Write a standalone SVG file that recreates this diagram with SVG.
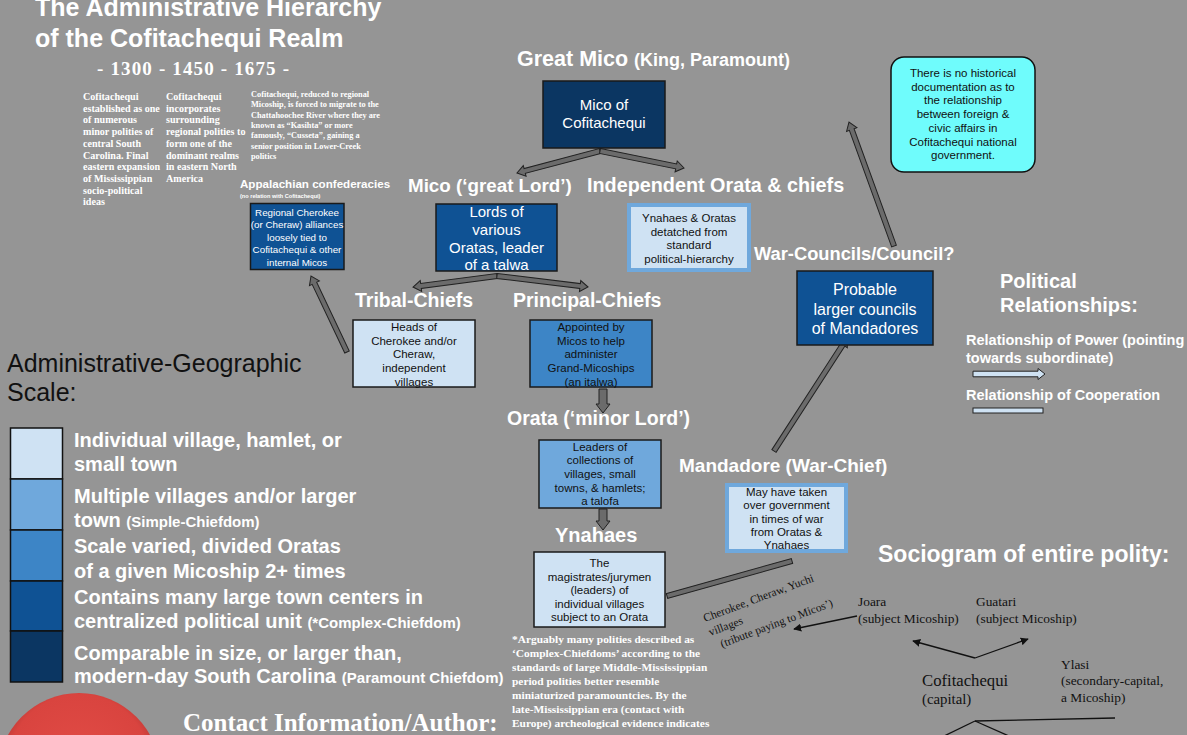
<svg xmlns="http://www.w3.org/2000/svg" width="1187" height="735" viewBox="0 0 1187 735">
<defs>
<style>
.sans{font-family:"Liberation Sans",Arial,sans-serif}
.serif{font-family:"Liberation Serif","Times New Roman",serif}
.h{font-family:"Liberation Sans",Arial,sans-serif;font-weight:bold;fill:#fff;font-size:19.5px}
.small{font-family:"Liberation Serif","Times New Roman",serif;font-weight:bold;fill:#fff;font-size:10.1px}
.tiny{font-family:"Liberation Serif","Times New Roman",serif;font-weight:bold;fill:#fff;font-size:8.3px}
.bt{font-family:"Liberation Sans",Arial,sans-serif;font-size:11.5px;fill:#111;text-anchor:middle}
.wt{font-family:"Liberation Sans",Arial,sans-serif;fill:#fff;text-anchor:middle}
.leg{font-family:"Liberation Sans",Arial,sans-serif;font-weight:bold;fill:#fff;font-size:20px}
.legs{font-size:15px}
.soc{font-family:"Liberation Serif","Times New Roman",serif;fill:#111;font-size:13.4px}
.blk{fill:#6b6b6b;stroke:#222;stroke-width:1}
.thin{stroke:#111;stroke-width:1.3;fill:none}
.c1{fill:#cfe2f3}.c2{fill:#6fa8dc}.c3{fill:#3d85c6}.c4{fill:#0f5294}.c5{fill:#0b3662}
.bx{stroke:#1a1a1a;stroke-width:1.5}
.bxl{stroke:#6fa8dc;stroke-width:4}
</style>
<marker id="ah" viewBox="0 0 10 10" refX="9" refY="5" markerWidth="8" markerHeight="8" markerUnits="userSpaceOnUse" orient="auto">
<path d="M0,0 L10,5 L0,10 Z" fill="#111"/>
</marker>
<radialGradient id="red" cx="0.5" cy="0.45" r="0.55">
<stop offset="0" stop-color="#e24c46"/>
<stop offset="0.8" stop-color="#d9443f"/>
<stop offset="1" stop-color="#a83430"/>
</radialGradient>
</defs>
<rect x="0" y="0" width="1187" height="735" fill="#959595"/>

<g id="title">
<text class="sans" x="35" y="16" font-size="25" font-weight="bold" fill="#fff">The Administrative Hierarchy</text>
<text class="sans" x="35" y="47" font-size="25" font-weight="bold" fill="#fff">of the Cofitachequi Realm</text>
<text class="serif" x="97" y="75" font-size="19" font-weight="bold" fill="#fff" textLength="192" lengthAdjust="spacing">- 1300 - 1450 - 1675 -</text>
</g>

<g id="timeline-notes">
<text class="small" x="83"><tspan x="83" y="100">Cofitachequi</tspan><tspan x="83" y="111.7">established as one</tspan><tspan x="83" y="123.4">of numerous</tspan><tspan x="83" y="135.1">minor polities of</tspan><tspan x="83" y="146.8">central South</tspan><tspan x="83" y="158.5">Carolina. Final</tspan><tspan x="83" y="170.2">eastern expansion</tspan><tspan x="83" y="181.9">of Mississippian</tspan><tspan x="83" y="193.6">socio-political</tspan><tspan x="83" y="205.3">ideas</tspan></text>
<text class="small" x="166"><tspan x="166" y="100">Cofitachequi</tspan><tspan x="166" y="111.7">incorporates</tspan><tspan x="166" y="123.4">surrounding</tspan><tspan x="166" y="135.1">regional polities to</tspan><tspan x="166" y="146.8">form one of the</tspan><tspan x="166" y="158.5">dominant realms</tspan><tspan x="166" y="170.2">in eastern North</tspan><tspan x="166" y="181.9">America</tspan></text>
<text class="tiny" x="251"><tspan x="251" y="97">Cofitachequi, reduced to regional</tspan><tspan x="251" y="107.3">Micoship, is forced to migrate to the</tspan><tspan x="251" y="117.6">Chattahoochee River where they are</tspan><tspan x="251" y="127.9">known as “Kasihta” or more</tspan><tspan x="251" y="138.2">famously, “Cusseta”, gaining a</tspan><tspan x="251" y="148.5">senior position in Lower-Creek</tspan><tspan x="251" y="158.8">politics</tspan></text>
</g>

<g id="connectors">
<g transform="translate(600,151) rotate(165.15)"><path class="blk" d="M0,-2.5 H77.9 V-5.5 L85.9,0 L77.9,5.5 V2.5 H0 Z"/></g>
<g transform="translate(600,151) rotate(11.44)"><path class="blk" d="M0,-2.5 H77.7 V-5.5 L85.7,0 L77.7,5.5 V2.5 H0 Z"/></g>
<g transform="translate(497,276) rotate(172.5)"><path class="blk" d="M0,-2.5 H76.7 V-5.5 L84.7,0 L76.7,5.5 V2.5 H0 Z"/></g>
<g transform="translate(497,276) rotate(6.9)"><path class="blk" d="M0,-2.5 H83.7 V-5.5 L91.7,0 L83.7,5.5 V2.5 H0 Z"/></g>
<g transform="translate(603,389) rotate(90)"><path class="blk" d="M0,-4 H15 V-7 L24,0 L15,7 V4 H0 Z"/></g>
<g transform="translate(603,509) rotate(90)"><path class="blk" d="M0,-4 H12 V-7 L21,0 L12,7 V4 H0 Z"/></g>
<g transform="translate(347,352) rotate(-115.35)"><path class="blk" d="M0,-2.5 H76.1 V-5.5 L84.1,0 L76.1,5.5 V2.5 H0 Z"/></g>
<g transform="translate(774,451) rotate(-57.1)"><path class="blk" d="M0,-2.5 H126.5 V-5.5 L134.5,0 L126.5,5.5 V2.5 H0 Z"/></g>
<g transform="translate(894,246) rotate(-109.95)"><path class="blk" d="M0,-2.5 H123.9 V-5.5 L131.9,0 L123.9,5.5 V2.5 H0 Z"/></g>
<g transform="translate(667,596) rotate(-15.64)"><rect class="blk" x="0" y="-2.5" width="129.8" height="5"/></g>
<line class="thin" x1="857" y1="616" x2="794" y2="629" marker-end="url(#ah)"/>
<line class="thin" x1="975" y1="658" x2="913" y2="641" marker-end="url(#ah)"/>
<line class="thin" x1="975" y1="658" x2="1028" y2="639" marker-end="url(#ah)"/>
<line class="thin" x1="975" y1="721" x2="1115" y2="718"/>
<line class="thin" x1="975" y1="721" x2="940" y2="738"/>
<line class="thin" x1="975" y1="721" x2="1018" y2="740"/>
</g>

<g id="great-mico">
<text class="h" x="517" y="66" style="font-size:21.5px">Great Mico <tspan style="font-size:18px">(King, Paramount)</tspan></text>
<rect class="c5 bx" x="543" y="81" width="122" height="67"/>
<text class="wt" font-size="15"><tspan x="604" y="110">Mico of</tspan><tspan x="604" y="128">Cofitachequi</tspan></text>
</g>

<g id="appalachian">
<text class="sans" x="240" y="188" font-size="11.6" font-weight="bold" fill="#fff">Appalachian confederacies</text>
<text class="sans" x="240" y="197.5" font-size="5.6" font-weight="bold" fill="#fff">(no relation with Cofitachequi)</text>
<rect class="c4 bx" x="250.5" y="203.5" width="93.5" height="66" stroke-width="1.2"/>
<text class="wt" font-size="9.8"><tspan x="297" y="216">Regional Cherokee</tspan><tspan x="297" y="228.4">(or Cheraw) alliances</tspan><tspan x="297" y="240.8">loosely tied to</tspan><tspan x="297" y="253.2">Cofitachequi &amp; other</tspan><tspan x="297" y="265.6">internal Micos</tspan></text>
</g>

<g id="mico">
<text class="h" x="408" y="192" style="font-size:18.8px">Mico (‘great Lord’)</text>
<rect class="c4 bx" x="436" y="204" width="121" height="67"/>
<text class="wt" font-size="15"><tspan x="496.5" y="217">Lords of</tspan><tspan x="496.5" y="235">various</tspan><tspan x="496.5" y="253">Oratas, leader</tspan><tspan x="496.5" y="270">of a talwa</tspan></text>
</g>

<g id="independent">
<text class="h" x="587" y="192" style="font-size:19.8px">Independent Orata &amp; chiefs</text>
<rect class="c1 bxl" x="629" y="205" width="120" height="65"/>
<text class="bt"><tspan x="689" y="222">Ynahaes &amp; Oratas</tspan><tspan x="689" y="235.5">detatched from</tspan><tspan x="689" y="249">standard</tspan><tspan x="689" y="262.5">political-hierarchy</tspan></text>
</g>

<g id="war-council">
<text class="h" x="754" y="260" style="font-size:18.3px">War-Councils/Council?</text>
<rect class="c4 bx" x="797" y="271" width="136" height="74" stroke-width="1.2"/>
<text class="wt" font-size="16"><tspan x="865" y="295">Probable</tspan><tspan x="865" y="315">larger councils</tspan><tspan x="865" y="334">of Mandadores</tspan></text>
</g>

<g id="note">
<rect x="891" y="57" width="144" height="115" rx="13" fill="#6ffcfc" stroke="#111" stroke-width="1.5"/>
<text class="bt"><tspan x="963" y="77">There is no historical</tspan><tspan x="963" y="90.7">documentation as to</tspan><tspan x="963" y="104.4">the relationship</tspan><tspan x="963" y="118.1">between foreign &amp;</tspan><tspan x="963" y="131.8">civic affairs in</tspan><tspan x="963" y="145.5">Cofitachequi national</tspan><tspan x="963" y="159.2">government.</tspan></text>
</g>

<g id="tribal-chiefs">
<text class="h" x="355" y="307">Tribal-Chiefs</text>
<rect class="c1 bx" x="353" y="320" width="122" height="67"/>
<text class="bt"><tspan x="414" y="331">Heads of</tspan><tspan x="414" y="344.7">Cherokee and/or</tspan><tspan x="414" y="358.4">Cheraw,</tspan><tspan x="414" y="372.1">independent</tspan><tspan x="414" y="385.8">villages</tspan></text>
</g>

<g id="principal-chiefs">
<text class="h" x="513" y="307">Principal-Chiefs</text>
<rect class="c3 bx" x="530" y="320" width="122" height="67"/>
<text class="bt"><tspan x="591" y="331">Appointed by</tspan><tspan x="591" y="344.7">Micos to help</tspan><tspan x="591" y="358.4">administer</tspan><tspan x="591" y="372.1">Grand-Micoships</tspan><tspan x="591" y="385.8">(an italwa)</tspan></text>
</g>

<g id="orata">
<text class="h" x="507" y="425">Orata (‘minor Lord’)</text>
<rect class="c2 bx" x="539" y="440" width="122" height="68"/>
<text class="bt"><tspan x="600" y="450.5">Leaders of</tspan><tspan x="600" y="464.2">collections of</tspan><tspan x="600" y="477.9">villages, small</tspan><tspan x="600" y="491.6">towns, &amp; hamlets;</tspan><tspan x="600" y="505.3">a talofa</tspan></text>
</g>

<g id="ynahaes">
<text class="h" x="555" y="542" style="font-size:20px">Ynahaes</text>
<rect class="c1 bx" x="534" y="552" width="131" height="75"/>
<text class="bt"><tspan x="599.5" y="567">The</tspan><tspan x="599.5" y="580.6">magistrates/jurymen</tspan><tspan x="599.5" y="594.2">(leaders) of</tspan><tspan x="599.5" y="607.8">individual villages</tspan><tspan x="599.5" y="621.4">subject to an Orata</tspan></text>
</g>

<g id="mandadore">
<text class="h" x="679" y="472" style="font-size:19px">Mandadore (War-Chief)</text>
<rect class="c1 bxl" x="727" y="485" width="119" height="66"/>
<text class="bt"><tspan x="786.5" y="496">May have taken</tspan><tspan x="786.5" y="509.3">over government</tspan><tspan x="786.5" y="522.6">in times of war</tspan><tspan x="786.5" y="535.9">from Oratas &amp;</tspan><tspan x="786.5" y="549.2">Ynahaes</tspan></text>
</g>

<g id="footnote">
<text class="serif" font-size="11.4" font-weight="bold" fill="#fff"><tspan x="512" y="643">*Arguably many polities described as</tspan><tspan x="512" y="657">‘Complex-Chiefdoms’ according to the</tspan><tspan x="512" y="671">standards of large Middle-Mississippian</tspan><tspan x="512" y="685">period polities better resemble</tspan><tspan x="512" y="699">miniaturized paramountcies. By the</tspan><tspan x="512" y="713">late-Mississippian era (contact with</tspan><tspan x="512" y="727">Europe) archeological evidence indicates</tspan></text>
</g>

<g id="relationships-key">
<text class="h" x="1000" y="288" style="font-size:20px">Political</text>
<text class="h" x="1000" y="312" style="font-size:20px">Relationships:</text>
<text class="h" x="966" y="345" style="font-size:14.5px">Relationship of Power (pointing</text>
<text class="h" x="966" y="363" style="font-size:14.5px">towards subordinate)</text>
<path d="M973,371.2 H1038 V368.5 L1045,374 L1038,379.5 V376.8 H973 Z" fill="#cfe2f3" stroke="#222" stroke-width="1"/>
<text class="h" x="966" y="400" style="font-size:14.5px">Relationship of Cooperation</text>
<rect x="973" y="408" width="70" height="5" fill="#cfe2f3" stroke="#222" stroke-width="1"/>
</g>

<g id="legend">
<text class="sans" x="7" y="372" font-size="25" fill="#111">Administrative-Geographic</text>
<text class="sans" x="7" y="401" font-size="25" fill="#111">Scale:</text>
<rect class="c1" x="10.5" y="428" width="52" height="51" stroke="#111" stroke-width="1.5"/>
<rect class="c2" x="10.5" y="479" width="52" height="51" stroke="#111" stroke-width="1.5"/>
<rect class="c3" x="10.5" y="530" width="52" height="51" stroke="#111" stroke-width="1.5"/>
<rect class="c4" x="10.5" y="581" width="52" height="50" stroke="#111" stroke-width="1.5"/>
<rect class="c5" x="10.5" y="631" width="52" height="51" stroke="#111" stroke-width="1.5"/>
<text class="leg" x="74" y="447">Individual village, hamlet, or</text>
<text class="leg" x="74" y="471">small town</text>
<text class="leg" x="74" y="503">Multiple villages and/or larger</text>
<text class="leg" x="74" y="527">town <tspan class="legs">(Simple-Chiefdom)</tspan></text>
<text class="leg" x="74" y="553">Scale varied, divided Oratas</text>
<text class="leg" x="74" y="578">of a given Micoship 2+ times</text>
<text class="leg" x="74" y="604">Contains many large town centers in</text>
<text class="leg" x="74" y="628">centralized political unit <tspan class="legs">(*Complex-Chiefdom)</tspan></text>
<text class="leg" x="74" y="660">Comparable in size, or larger than,</text>
<text class="leg" x="74" y="683">modern-day South Carolina <tspan class="legs">(Paramount Chiefdom)</tspan></text>
</g>

<g id="contact">
<circle cx="79" cy="774" r="81" fill="url(#red)"/>
<text class="serif" x="183" y="731" font-size="25" font-weight="bold" fill="#fff">Contact Information/Author:</text>
</g>

<g id="sociogram">
<text class="h" x="878" y="562" style="font-size:23px">Sociogram of entire polity:</text>
<text class="serif" font-size="11.5" fill="#111" transform="rotate(-20.5 705 622)"><tspan x="705" y="622">Cherokee, Cheraw, Yuchi</tspan><tspan x="705" y="637">villages</tspan><tspan x="712" y="652">(tribute paying to Micos’)</tspan></text>
<text class="soc" x="858" y="606">Joara</text>
<text class="soc" x="858" y="623">(subject Micoship)</text>
<text class="soc" x="976" y="606">Guatari</text>
<text class="soc" x="976" y="623">(subject Micoship)</text>
<text class="soc" x="922" y="686" style="font-size:16.7px">Cofitachequi</text>
<text class="soc" x="922" y="704" style="font-size:14.8px">(capital)</text>
<text class="soc" x="1061" y="669">Ylasi</text>
<text class="soc" x="1061" y="685">(secondary-capital,</text>
<text class="soc" x="1061" y="702">a Micoship)</text>
</g>
</svg>
